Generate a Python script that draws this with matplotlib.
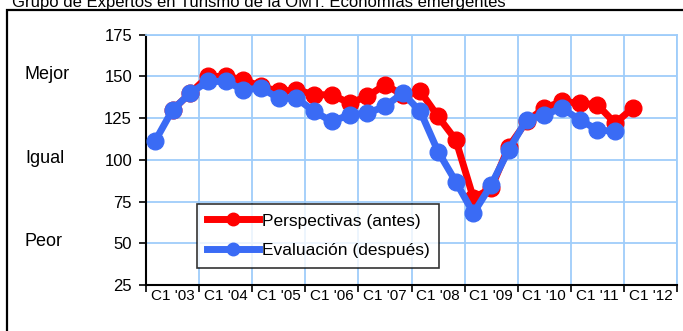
import matplotlib
matplotlib.use("Agg")
import matplotlib.pyplot as plt
from matplotlib.patches import Rectangle
import numpy as np

# Panel index: three surveys (cuatrimestres) per year
years = ["'03", "'04", "'05", "'06", "'07", "'08", "'09", "'10", "'11", "'12"]
year_labels = ["C1 " + y for y in years]

# Perspectivas (antes): expectation for the coming period
perspectivas = [np.nan, 130, 140, 150, 150, 148, 144, 141, 142, 139, 139, 134, 138, 145,
                139, 141, 126, 112, 77, 83, 108, 123, 131, 135, 134, 133, 122, 131,
                np.nan, np.nan]
# Evaluación (después): assessment of the period just ended
evaluacion = [111, 130, 140, 147, 147, 142, 143, 137, 137, 129, 123, 127, 128, 132,
              140, 129, 105, 87, 68, 85, 106, 124, 127, 131, 124, 118, 117, np.nan,
              np.nan, np.nan]

level_labels = ["Mejor", "Igual", "Peor"]
level_values = [150, 100, 50]

RED = "#FF0000"
BLUE = "#3A6BF5"
GRID = "#9FCDFA"

plt.rcParams["font.family"] = ["Liberation Sans", "DejaVu Sans"]

fig = plt.figure(figsize=(6.83, 3.31), dpi=100)
ax = fig.add_axes([146 / 683, 1 - 285 / 331, (677 - 146) / 683, (285 - 34.7) / 331])

x = np.arange(len(perspectivas))
ax.plot(x, perspectivas, color=RED, lw=5, marker="o", ms=12, mec=RED, mfc=RED,
        label="Perspectivas (antes)", zorder=3)
ax.plot(x, evaluacion, color=BLUE, lw=5, marker="o", ms=12, mec=BLUE, mfc=BLUE,
        label="Evaluación (después)", zorder=4)

ax.set_xlim(-0.5, len(perspectivas) - 0.5)
ax.set_ylim(25, 175)
ax.set_yticks(np.arange(25, 176, 25))

# Group boundaries carry the tick marks and grid; labels sit in the middle of each year
ax.set_xticks(np.arange(-0.5, len(perspectivas), 3))
ax.set_xticklabels([])
ax.set_xticks(np.arange(1, len(perspectivas), 3), minor=True)
ax.set_xticklabels(year_labels, minor=True, fontsize=11)
ax.tick_params(axis="x", which="minor", length=0, pad=3)
ax.tick_params(axis="x", which="major", length=5, width=1.2, direction="out", color="black")
ax.tick_params(axis="y", length=5, width=1.2, direction="out", labelsize=12, pad=5)

ax.grid(True, which="major", color=GRID, lw=1.3, zorder=0)
ax.set_axisbelow(True)
for side in ("top", "right"):
    ax.spines[side].set_color(GRID)
    ax.spines[side].set_linewidth(1.3)
for side in ("left", "bottom"):
    ax.spines[side].set_color("black")
    ax.spines[side].set_linewidth(1.5)

for lab, val in zip(level_labels, level_values):
    ax.text(25 / 683, ax.transData.transform((0, val))[1] / 331 + 0.005, lab,
            transform=fig.transFigure, fontsize=13, ha="left", va="center")

leg = ax.legend(loc="lower left", bbox_to_anchor=((197 - 146) / 531, (285 - 268) / 250.3),
                frameon=True, fancybox=False, edgecolor="black", fontsize=12.5,
                handlelength=3.0, labelspacing=0.85, borderpad=0.55, handletextpad=0.2,
                borderaxespad=0)
leg.get_frame().set_linewidth(1.2)
for h in leg.legend_handles:
    h.set_markersize(9)

# Outer frame and heading
fig.patches.append(Rectangle((7 / 683, -0.1), 1.0, 1 - 10 / 331 + 0.1,
                             transform=fig.transFigure, fill=False, ec="black", lw=1.6))
fig.text(12 / 683, 1 - 2 / 331, "Grupo de Expertos en Turismo de la OMT: Economías emergentes",
         fontsize=12, ha="left", va="center")

fig.savefig("out.png", dpi=100)
